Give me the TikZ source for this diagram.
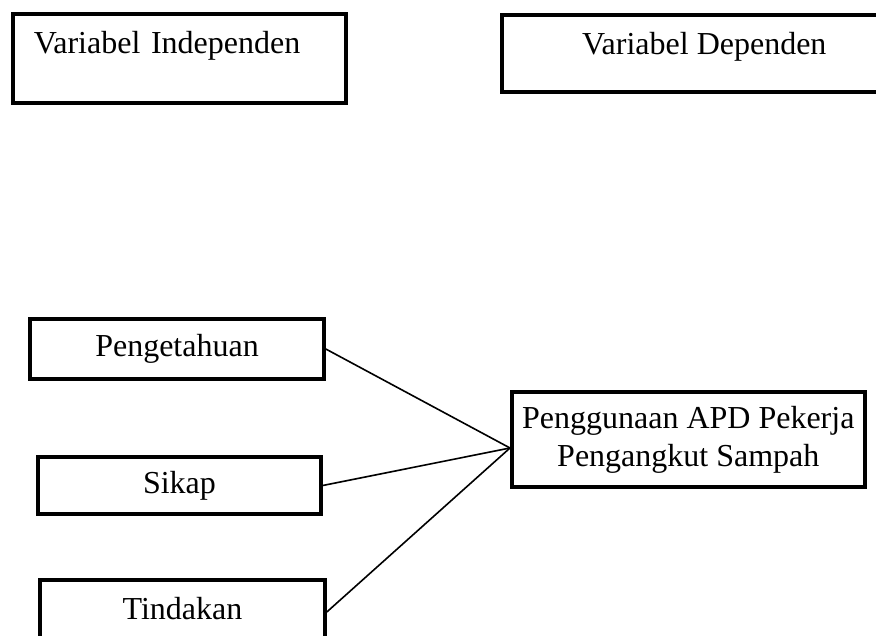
\documentclass[tikz,border=0pt]{standalone}
\usepackage{fontspec}
\setmainfont{Liberation Serif}

\begin{document}
\begin{tikzpicture}[
        x=1pt, y=-1pt,
        font=\fontsize{32}{38}\selectfont,
        box/.style={draw, line width=3.6pt, inner sep=0pt},
        factor/.style={box, minimum width=#1, minimum height=60pt, text height=22pt, text depth=7pt},
        factor/.default=290pt,
        link/.style={line width=1.6pt},
    ]
    \clip (0,0) rectangle (876,636);
    \fill[white] (0,0) rectangle (876,636);

    % Header boxes
    \node[box, anchor=north west, text width=291pt, align=left, inner xsep=21pt, text height=40pt, text depth=49pt] (indep) at (11,12) {Variabel Independen};
    \node[box, anchor=north west, minimum width=405pt, text height=40pt, text depth=37pt] (dep) at (500,13) {Variabel Dependen};

    % Independent variables
    \node[factor=294pt] (tahu) at (177,349) {Pengetahuan};
    \node[factor=283pt, minimum height=57pt] (sikap) at (179.5,485.5) {Sikap};
    \node[factor=285pt, minimum height=64pt] (tindak) at (182.5,612) {Tindakan};

    % Dependent variable
    \node[box, anchor=west, minimum width=353pt, minimum height=95pt, align=center] (hasil) at (510,439.5) {Penggunaan APD Pekerja\\Pengangkut Sampah};

    % Connectors
    \coordinate (join) at ([yshift=-8.5pt]hasil.west);
    \draw[link] (tahu.east) -- (join);
    \draw[link] (sikap.east) -- (join);
    \draw[link] (tindak.east) -- (join);
\end{tikzpicture}
\end{document}
